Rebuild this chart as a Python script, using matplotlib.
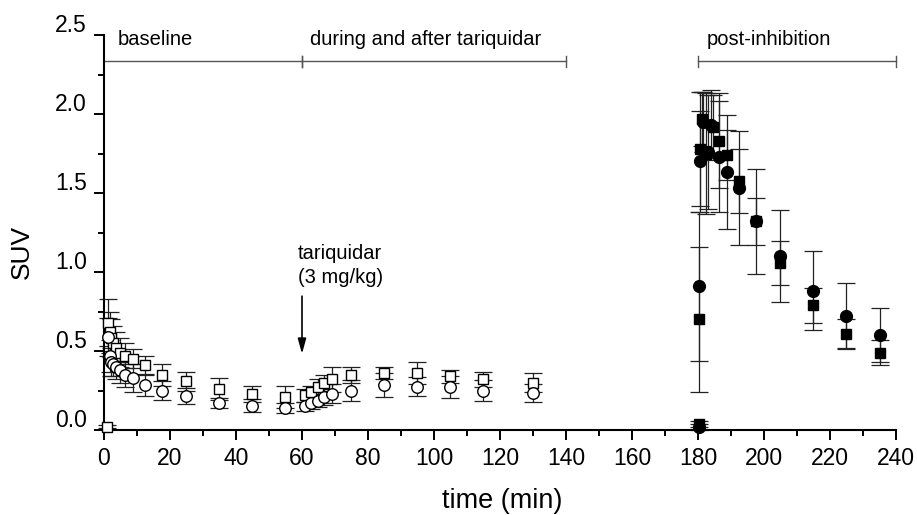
import matplotlib
matplotlib.use("Agg")
import matplotlib.pyplot as plt
import matplotlib.transforms as mtransforms
from matplotlib.ticker import MultipleLocator

# open symbols: baseline + during/after tariquidar
t_open = [1.0, 1.25, 1.75, 2.25, 2.75, 3.75, 5.0, 6.25, 8.75, 12.5, 17.5, 25, 35, 45, 55,
          61, 62.75, 64.75, 66.75, 69, 75, 85, 95, 105, 115, 130]
sq_open = [0.02, 0.68, 0.62, 0.58, 0.55, 0.52, 0.49, 0.47, 0.45, 0.41, 0.35, 0.31, 0.26, 0.23, 0.21,
           0.22, 0.24, 0.27, 0.30, 0.32, 0.35, 0.36, 0.36, 0.34, 0.32, 0.30]
sq_open_err = [0.01, 0.15, 0.13, 0.12, 0.11, 0.10, 0.09, 0.08, 0.06, 0.06, 0.07, 0.06, 0.07, 0.05, 0.07,
               0.04, 0.04, 0.05, 0.05, 0.08, 0.05, 0.04, 0.07, 0.04, 0.05, 0.06]
t_ci_open = t_open[1:]
ci_open = [0.59, 0.47, 0.43, 0.42, 0.40, 0.38, 0.35, 0.33, 0.285, 0.25, 0.215, 0.17, 0.155, 0.14,
           0.15, 0.17, 0.185, 0.21, 0.23, 0.25, 0.285, 0.275, 0.27, 0.25, 0.235]
ci_open_err = [0.12, 0.10, 0.09, 0.08, 0.08, 0.08, 0.08, 0.09, 0.07, 0.06, 0.05, 0.03, 0.04, 0.03,
               0.03, 0.04, 0.04, 0.05, 0.06, 0.065, 0.075, 0.06, 0.07, 0.067, 0.055]

# filled symbols: post-inhibition
t_sq_post = [180.2, 180.4, 180.6, 181.2, 182.5, 184.5, 186.3, 188.7, 192.5, 197.5, 205, 215, 225, 235]
sq_post = [0.04, 0.70, 1.78, 1.97, 1.75, 1.92, 1.83, 1.74, 1.576, 1.32, 1.055, 0.79, 0.61, 0.49]
sq_post_err = [0.02, 0.46, 0.36, 0.17, 0.38, 0.20, 0.30, 0.16, 0.20, 0.15, 0.14, 0.11, 0.09, 0.08]
t_ci_post = [180.2, 180.4, 180.6, 181.5, 183.0, 184.0, 186.3, 188.7, 192.5, 197.5, 205, 215, 225, 235]
ci_post = [0.02, 0.91, 1.70, 1.95, 1.76, 1.93, 1.73, 1.635, 1.53, 1.32, 1.10, 0.88, 0.72, 0.60]
ci_post_err = [0.02, 0.47, 0.32, 0.19, 0.36, 0.22, 0.35, 0.36, 0.36, 0.33, 0.29, 0.25, 0.21, 0.17]

x_ticks = list(range(0, 241, 20))
y_ticks = [0.0, 0.5, 1.0, 1.5, 2.0, 2.5]
phases = [("baseline", 0, 60), ("during and after tariquidar", 60, 140), ("post-inhibition", 180, 240)]

plt.rcParams["font.family"] = ["Liberation Sans", "DejaVu Sans"]

fig = plt.figure(figsize=(9.17, 5.15), dpi=100)
ax = fig.add_axes([0.1134, 0.165, 0.8637, 0.767])

eb = dict(fmt="none", ecolor="#222222", elinewidth=0.9, capsize=6.5, capthick=0.9, zorder=2, clip_on=False)
ax.errorbar(t_open, sq_open, yerr=sq_open_err, **eb)
ax.errorbar(t_ci_open, ci_open, yerr=ci_open_err, **eb)
ax.errorbar(t_sq_post, sq_post, yerr=sq_post_err, **eb)
ax.errorbar(t_ci_post, ci_post, yerr=ci_post_err, **eb)

ax.plot(t_open, sq_open, "s", ms=6.7, mfc="white", mec="black", mew=1.0, ls="none", zorder=3, clip_on=False)
ax.plot(t_ci_open, ci_open, "o", ms=8.3, mfc="white", mec="black", mew=1.0, ls="none", zorder=4, clip_on=False)
ax.plot(t_ci_post, ci_post, "o", ms=8.5, color="black", ls="none", zorder=3, clip_on=False)
ax.plot(t_sq_post, sq_post, "s", ms=6.8, color="black", ls="none", zorder=4, clip_on=False)

# phase brackets
yb = 2.335
for name, x0, x1 in phases:
    ax.plot([x0, x1], [yb, yb], color="#555555", lw=1.0, zorder=1, clip_on=False)
    for xe in (x0, x1):
        if xe > 0:
            ax.plot([xe, xe], [yb - 0.035, yb + 0.035], color="#555555", lw=1.0, zorder=1, clip_on=False)
    ax.text(x0 + (4 if x0 == 0 else 2.5), 2.47, name, fontsize=14.5, ha="left", va="center")

ax.annotate("", xy=(60, 0.465), xytext=(60, 0.865),
            arrowprops=dict(arrowstyle="-|>,head_width=0.25,head_length=0.9", color="black", lw=1.2))
ax.text(58.8, 1.04, "tariquidar\n(3 mg/kg)", fontsize=14.5, ha="left", va="center", linespacing=1.3)

ax.set_xlim(0, 240)
ax.set_ylim(0, 2.5)
ax.set_xticks(x_ticks)
ax.set_yticks(y_ticks)
ax.set_yticklabels([f"{v:.1f}" for v in y_ticks])
ax.xaxis.set_minor_locator(MultipleLocator(10))
ax.yaxis.set_minor_locator(MultipleLocator(0.25))
ax.tick_params(which="major", direction="out", length=7.5, width=1.4, labelsize=16.5, pad=5)
ax.tick_params(which="minor", direction="out", length=4, width=1.4)
for side in ("top", "right"):
    ax.spines[side].set_visible(False)
for side in ("left", "bottom"):
    ax.spines[side].set_linewidth(1.5)

ax.set_xlabel("time (min)", fontsize=19.5)
ax.set_ylabel("SUV", fontsize=19)
ax.xaxis.set_label_coords(0.503, -0.148)
ax.yaxis.set_label_coords(-0.088, 0.45)

# y tick labels sit a bit above their ticks in the original
offset = mtransforms.ScaledTranslation(0, 0.12, fig.dpi_scale_trans)
for lab in ax.get_yticklabels():
    lab.set_transform(lab.get_transform() + offset)

fig.savefig("out.png", dpi=100)
